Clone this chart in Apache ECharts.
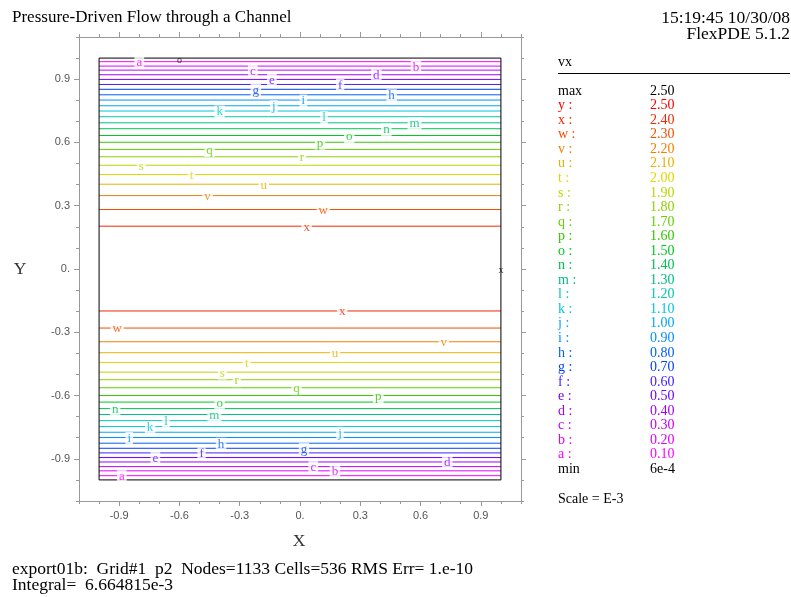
<!DOCTYPE html>
<html>
<head>
<meta charset="utf-8">
<script src="https://cdn.jsdelivr.net/npm/echarts@6/dist/echarts.min.js"></script>
<style>
html, body { margin: 0; padding: 0; background: #fff; }
#main { width: 791px; height: 597px; }
</style>
</head>
<body>
<div id="main"></div>
<script>
// contour letters, lowest level first
var letters = ['a', 'b', 'c', 'd', 'e', 'f', 'g', 'h', 'i', 'j', 'k', 'l',
  'm', 'n', 'o', 'p', 'q', 'r', 's', 't', 'u', 'v', 'w', 'x']
var levels = [0.10, 0.20, 0.30, 0.40, 0.50, 0.60, 0.70, 0.80, 0.90, 1.00, 1.10, 1.20,
  1.30, 1.40, 1.50, 1.60, 1.70, 1.80, 1.90, 2.00, 2.10, 2.20, 2.30, 2.40]
var lineColors = ['#ff00ff', '#e000ff', '#c000ff', '#a000ff', '#7000ff', '#4020ff',
  '#0040ff', '#0060ff', '#0090ff', '#00a8f0', '#00c8d8', '#00c8b0',
  '#00c080', '#00c050', '#00c820', '#30c800', '#60d000', '#90d000',
  '#b8d800', '#e0d800', '#e8b000', '#f08000', '#f05000', '#f02800']
// y of each contour line, upper and lower half of the channel
var yUpper = [0.983, 0.962, 0.943, 0.921, 0.899, 0.875, 0.852, 0.826, 0.801, 0.774, 0.749, 0.722,
  0.693, 0.665, 0.633, 0.601, 0.567, 0.532, 0.492, 0.448, 0.402, 0.348, 0.282, 0.203]
var yLower = [-0.980, -0.957, -0.937, -0.915, -0.894, -0.872, -0.850, -0.826, -0.799, -0.774, -0.747, -0.719,
  -0.690, -0.662, -0.631, -0.600, -0.563, -0.525, -0.489, -0.443, -0.397, -0.345, -0.280, -0.199]
// x where the letter sits on each line
var xLabelUpper = [-0.80, 0.577, -0.235, 0.38, -0.14, 0.20, -0.22, 0.456, 0.017, -0.13, -0.40, 0.12,
  0.57, 0.43, 0.245, 0.10, -0.45, 0.01, -0.79, -0.54, -0.18, -0.46, 0.116, 0.033]
var xLabelLower = [-0.887, 0.174, 0.066, 0.733, -0.72, -0.49, 0.02, -0.393, -0.85, 0.199, -0.746, -0.667,
  -0.426, -0.92, -0.40, 0.39, -0.017, -0.315, -0.387, -0.265, 0.174, 0.716, -0.91, 0.21]

var majorTicks = [-0.9, -0.6, -0.3, 0, 0.3, 0.6, 0.9]
var minorTicks = [-1.1, -1.0, -0.9, -0.8, -0.7, -0.6, -0.5, -0.4, -0.3, -0.2, -0.1, 0,
  0.1, 0.2, 0.3, 0.4, 0.5, 0.6, 0.7, 0.8, 0.9, 1.0, 1.1]

var legendLetters = ['y', 'x', 'w', 'v', 'u', 't', 's', 'r', 'q', 'p', 'o', 'n', 'm',
  'l', 'k', 'j', 'i', 'h', 'g', 'f', 'e', 'd', 'c', 'b', 'a']
var legendValues = ['2.50', '2.40', '2.30', '2.20', '2.10', '2.00', '1.90', '1.80', '1.70', '1.60',
  '1.50', '1.40', '1.30', '1.20', '1.10', '1.00', '0.90', '0.80', '0.70', '0.60',
  '0.50', '0.40', '0.30', '0.20', '0.10']
var legendColors = ['#ff0000', '#f02800', '#f05000', '#f08000', '#e8b000', '#e0d800',
  '#b8d800', '#90d000', '#60d000', '#30c800', '#00c820', '#00c050', '#00c080',
  '#00c8b0', '#00c8d8', '#00a8f0', '#0090ff', '#0060ff', '#0040ff', '#4020ff',
  '#7000ff', '#a000ff', '#c000ff', '#e000ff', '#ff00ff']

var serif = "'Liberation Serif', 'DejaVu Serif', serif"
var frameColor = '#999'

var chart = echarts.init(document.getElementById('main'))

function tickAxis (pos, values, len, labels) {
  return {
    type: 'value',
    position: pos,
    min: -1.1,
    max: 1.1,
    interval: 0.1,
    axisLine: { show: true, onZero: false, lineStyle: { color: frameColor, width: 1 } },
    axisTick: { show: true, inside: false, length: len, customValues: values, lineStyle: { color: frameColor } },
    axisLabel: {
      show: labels,
      customValues: majorTicks,
      color: '#555',
      fontFamily: "'Liberation Sans', Arial, sans-serif",
      fontSize: 11,
      margin: 9,
      formatter: function (v) { return v === 0 ? '0.' : v.toFixed(1) }
    },
    splitLine: { show: false }
  }
}

var series = []
// channel wall
series.push({
  type: 'line',
  data: [[-1, -1], [1, -1], [1, 1], [-1, 1], [-1, -1]],
  symbol: 'none',
  lineStyle: { color: '#000', width: 1 },
  silent: true,
  z: 3
})
letters.forEach(function (l, i) {
  [yUpper[i], yLower[i]].forEach(function (y) {
    series.push({
      type: 'line',
      data: [[-1, y], [1, y]],
      symbol: 'none',
      lineStyle: { color: lineColors[i], width: 1 },
      silent: true,
      z: 2
    })
  })
  series.push({
    type: 'scatter',
    data: [[xLabelUpper[i], yUpper[i], l], [xLabelLower[i], yLower[i], l]],
    symbolSize: 1,
    itemStyle: { color: 'rgba(0,0,0,0)' },
    label: {
      show: true,
      position: 'inside',
      formatter: function (p) { return p.value[2] },
      color: lineColors[i],
      fontFamily: serif,
      fontSize: 13,
      backgroundColor: '#fff',
      padding: [0, 2],
      offset: [0, 1]
    },
    silent: true,
    z: 5
  })
})
// min / max markers
series.push({
  type: 'scatter',
  data: [[-0.6, 0.99, 'o'], [1.0, -0.005, 'x']],
  symbolSize: 1,
  itemStyle: { color: 'rgba(0,0,0,0)' },
  label: {
    show: true,
    position: 'inside',
    formatter: function (p) { return p.value[2] },
    color: '#000',
    fontFamily: serif,
    fontSize: 10
  },
  silent: true,
  z: 6
})

var big = '17.5px ' + serif
var small = '14px ' + serif
var graphic = [
  { type: 'text', x: 12, y: 18, style: { text: 'Pressure-Driven Flow through a Channel', font: '17px ' + serif, fill: '#000', textVerticalAlign: 'middle' } },
  { type: 'text', x: 790, y: 18, style: { text: '15:19:45 10/30/08', font: big, fill: '#000', textAlign: 'right', textVerticalAlign: 'middle' } },
  { type: 'text', x: 790, y: 34, style: { text: 'FlexPDE 5.1.2', font: big, fill: '#000', textAlign: 'right', textVerticalAlign: 'middle' } },
  { type: 'text', x: 20, y: 269, style: { text: 'Y', font: big, fill: '#333', textAlign: 'center', textVerticalAlign: 'middle' } },
  { type: 'text', x: 299, y: 541, style: { text: 'X', font: big, fill: '#333', textAlign: 'center', textVerticalAlign: 'middle' } },
  { type: 'text', x: 12, y: 569, style: { text: 'export01b:  Grid#1  p2  Nodes=1133 Cells=536 RMS Err= 1.e-10', font: big, fill: '#000', textVerticalAlign: 'middle' } },
  { type: 'text', x: 12, y: 585, style: { text: 'Integral=  6.664815e-3', font: big, fill: '#000', textVerticalAlign: 'middle' } },
  // legend
  { type: 'text', x: 558, y: 62, style: { text: 'vx', font: small, fill: '#000', textVerticalAlign: 'middle' } },
  { type: 'line', shape: { x1: 558, y1: 73.5, x2: 790, y2: 73.5 }, style: { stroke: '#000', lineWidth: 1 } },
  { type: 'text', x: 558, y: 91, style: { text: 'max', font: small, fill: '#000', textVerticalAlign: 'middle' } },
  { type: 'text', x: 650, y: 91, style: { text: '2.50', font: small, fill: '#000', textVerticalAlign: 'middle' } }
]
var rowStep = 14.55
legendLetters.forEach(function (l, i) {
  var y = 91 + (i + 1) * rowStep
  graphic.push({ type: 'text', x: 558, y: y, style: { text: l + ' :', font: small, fill: legendColors[i], textVerticalAlign: 'middle' } })
  graphic.push({ type: 'text', x: 650, y: y, style: { text: legendValues[i], font: small, fill: legendColors[i], textVerticalAlign: 'middle' } })
})
var minY = 91 + (legendLetters.length + 1) * rowStep
graphic.push({ type: 'text', x: 558, y: minY, style: { text: 'min', font: small, fill: '#000', textVerticalAlign: 'middle' } })
graphic.push({ type: 'text', x: 650, y: minY, style: { text: '6e-4', font: small, fill: '#000', textVerticalAlign: 'middle' } })
graphic.push({ type: 'text', x: 558, y: 499, style: { text: 'Scale = E-3', font: small, fill: '#000', textVerticalAlign: 'middle' } })

chart.setOption({
  animation: false,
  backgroundColor: '#fff',
  grid: { left: 79, top: 37, width: 442, height: 464 },
  xAxis: [
    tickAxis('bottom', majorTicks, 5, true),
    tickAxis('bottom', minorTicks, 3, false),
    tickAxis('top', majorTicks, 5, false),
    tickAxis('top', minorTicks, 3, false)
  ],
  yAxis: [
    tickAxis('left', majorTicks, 5, true),
    tickAxis('left', minorTicks, 3, false),
    tickAxis('right', majorTicks, 5, false),
    tickAxis('right', minorTicks, 3, false)
  ],
  series: series,
  graphic: graphic
})
</script>
</body>
</html>
